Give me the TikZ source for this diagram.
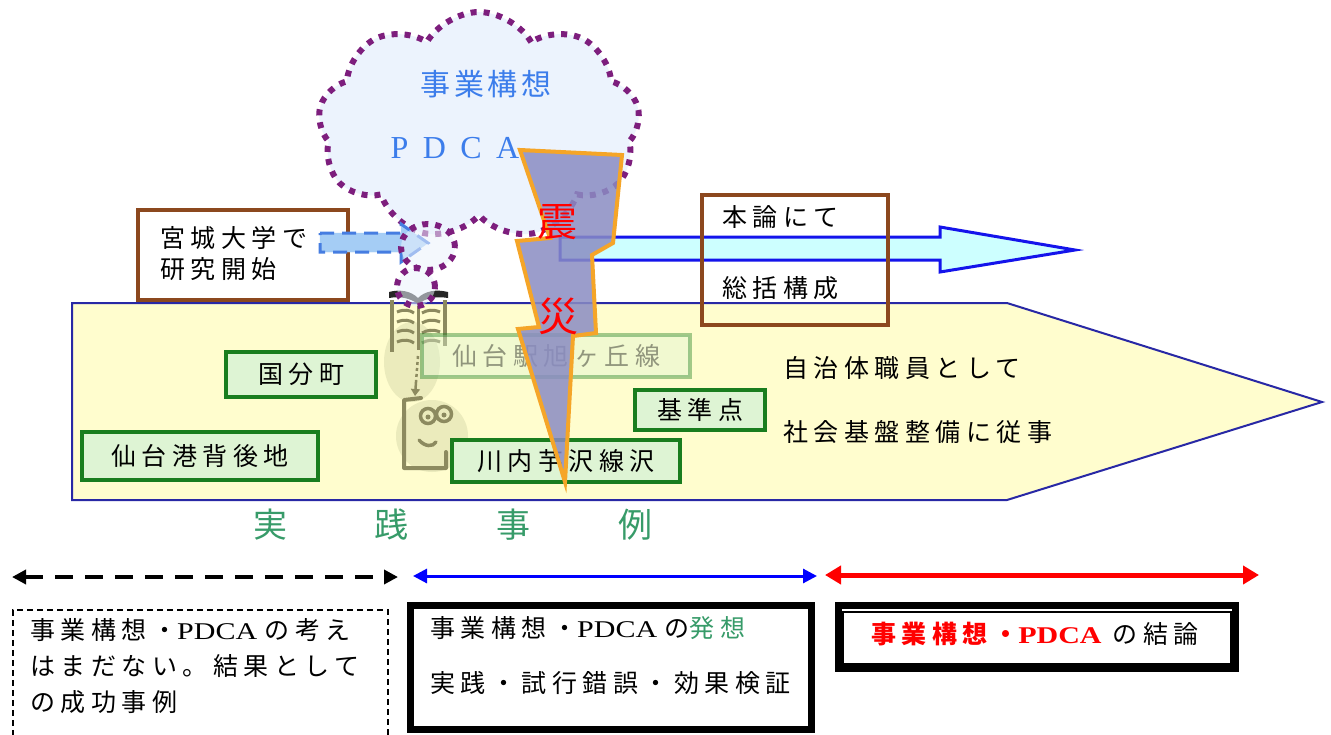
\documentclass[tikz,border=0pt]{standalone}
\usepackage{fontspec}
\setmainfont{Liberation Serif}
% Japanese text with the wide character pitch of the labels
\newfontfamily\jp{Noto Sans CJK JP}[LetterSpace=22]
\newfontfamily\jpn{Noto Sans CJK JP}
\newfontfamily\jpwide{Noto Sans CJK JP}[LetterSpace=13]
% broad serif Latin letters set beside the Japanese text
\newfontfamily\lat{Liberation Serif}[FakeStretch=1.25]
\newfontfamily\latwide{Liberation Serif}[LetterSpace=45]
\usetikzlibrary{shapes.symbols,shapes.geometric,arrows.meta}

\definecolor{penfill}{RGB}{255,253,206}
\definecolor{penline}{RGB}{40,40,165}
\definecolor{brownbox}{RGB}{140,72,30}
\definecolor{greenline}{RGB}{25,125,30}
\definecolor{greenfill}{RGB}{222,244,212}
\definecolor{cloudfill}{RGB}{236,243,253}
\definecolor{cloudline}{RGB}{125,30,125}
\definecolor{cloudtext}{RGB}{60,125,235}
\definecolor{boltfill}{RGB}{138,140,195}
\definecolor{boltline}{RGB}{245,165,40}
\definecolor{arrowfill}{RGB}{205,255,255}
\definecolor{arrowline}{RGB}{20,20,235}
\definecolor{dashfill}{RGB}{165,205,245}
\definecolor{dashline}{RGB}{70,125,225}
\definecolor{labelgreen}{RGB}{55,155,105}
\definecolor{icon}{RGB}{140,138,95}
\definecolor{glow}{RGB}{232,232,185}

\newcommand\jpsize{\fontsize{25}{30}\selectfont}
\newcommand\latsize{\fontsize{24}{30}\selectfont}

\begin{document}
\begin{tikzpicture}[x=1pt,y=-1pt,
  txt/.style={font={\jp\jpsize}, inner sep=0pt, anchor=west},
  greenbox/.style={draw=greenline, line width=4pt, fill=greenfill, inner sep=0pt, font={\jp\jpsize}},
  brownframe/.style={draw=brownbox, line width=4pt, inner sep=0pt},
  puffline/.style={draw=cloudline, line width=6pt, dash pattern=on 6pt off 7pt},
  tipsmall/.style={{Triangle[length=14pt,width=14pt]}-{Triangle[length=14pt,width=14pt]}},
  tipbig/.style={{Triangle[length=16pt,width=18pt]}-{Triangle[length=16pt,width=18pt]}}]
\useasboundingbox (0,0) rectangle (1331,734);
\fill[white] (0,0) rectangle (1331,734);

% timeline band
\draw[penline, line width=2pt, fill=penfill] (72,303) -- (1007,303) -- (1322,402) -- (1007,500) -- (72,500) -- cycle;

% book and reader icon
\fill[glow, opacity=0.85] (412,362) ellipse [x radius=28pt, y radius=40pt];
\fill[glow, opacity=0.85] (432,436) circle [radius=36pt];
\fill[black!85] (389,292) .. controls (400,289) and (411,291) .. (418,298) .. controls (425,291) and (436,289) .. (448,292)
  -- (448,298) .. controls (436,296) and (426,298) .. (418,304) .. controls (410,298) and (400,296) .. (389,298) -- cycle;
\draw[icon, line width=4pt] (392,300) -- (392,352);
\draw[icon, line width=4pt] (445,300) -- (445,346);
\draw[icon, line width=3pt] (418,304) -- (418,350);
\foreach \yy in {312,322,332,342} {
  \draw[icon, line width=3pt] (397,\yy) .. controls (404,\yy-3) and (410,\yy-2) .. (414,\yy+1);
  \draw[icon, line width=3pt] (422,\yy+1) .. controls (427,\yy-2) and (433,\yy-3) .. (440,\yy);
}
\draw[icon, line width=2.5pt, dash pattern=on 3pt off 3pt] (418,356) -- (416,382);
\draw[icon, line width=2.5pt, -{Triangle[length=7pt,width=9pt]}] (416,382) -- (415,396);
\draw[icon, line width=4pt, line join=round, line cap=round] (421,398) -- (404,400) -- (404,468) -- (446,468) -- (446,452);
\draw[icon, line width=3.5pt] (428,416) circle [radius=7.5pt] (444,414) circle [radius=7.5pt];
\fill[icon] (428,417) circle [radius=2.5pt] (444,415) circle [radius=2.5pt];
\draw[icon, line width=3.5pt, line cap=round] (419,440) .. controls (425,447) and (433,447) .. (436,442);

% practice examples
\node[greenbox, minimum width=150pt, minimum height=45pt] (kokubun) at (301,374.5) {国分町};
\node[greenbox, minimum width=236pt, minimum height=48pt] (minato) at (200,456) {仙台港背後地};
\node[greenbox, opacity=0.4, minimum width=268pt, minimum height=42pt] (ekimae) at (556,356) {仙台駅旭ヶ丘線};
\node[greenbox, minimum width=130pt, minimum height=40pt] (kijun) at (700,410) {基準点};
\node[greenbox, minimum width=228pt, minimum height=42pt] (kawauchi) at (566,461) {川内芋沢線沢};

\node[txt] (jichitai) at (783,368) {自治体職員として};
\node[txt] (kiban) at (783,432) {社会基盤整備に従事};

\node[font={\jpn\fontsize{34}{40}\selectfont}, text=labelgreen, inner sep=0pt] (jissen) at (453,525)
  {実\hspace{88pt}践\hspace{88pt}事\hspace{88pt}例};

% idea cloud
\node[cloud, cloud puffs=9, cloud puff arc=120, cloud ignores aspect, minimum width=322pt, minimum height=228pt,
  inner sep=0pt, fill=cloudfill, puffline] (idea) at (479,126) {};
\node[font={\jpwide\fontsize{30}{36}\selectfont}, text=cloudtext, inner sep=0pt] (ideatitle) at (486,84) {事業構想};
\node[font={\latwide\fontsize{32}{36}\selectfont}, text=cloudtext, inner sep=0pt] (ideapdca) at (455,148) {PDCA};

% start of research
\node[brownframe, fill=white, minimum width=210pt, minimum height=90pt] (miyagi) at (243,255) {};
\node[txt, align=left, font={\jp\fontsize{25}{31}\selectfont}] (miyagitxt) at (160,253) {宮城大学で\\研究開始};

\draw[dashfill, fill=dashfill] (320,233) -- (401,233) -- (401,224) -- (428,243) -- (401,262) -- (401,252) -- (320,252) -- cycle;
\draw[dashline, line width=3pt, dash pattern=on 14pt off 8pt] (320,233) -- (401,233) -- (401,224) -- (428,243) -- (401,262) -- (401,252) -- (320,252) -- cycle;

\node[ellipse, fill=cloudfill, fill opacity=0.55, puffline, minimum width=54pt, minimum height=46pt, inner sep=0pt] (bubbleA) at (428,247) {};
\node[ellipse, fill=cloudfill, fill opacity=0.55, puffline, minimum width=38pt, minimum height=38pt, inner sep=0pt] (bubbleB) at (416,287) {};

% main arrow towards the conclusion
\draw[arrowline, line width=3pt, fill=arrowfill] (560,237) -- (940,237) -- (940,227) -- (1075,250) -- (940,272) -- (940,260) -- (560,260) -- cycle;

% earthquake bolt
\draw[boltline, line width=4pt, fill=boltfill, fill opacity=0.85] (520,150) -- (622,155) -- (613,243) -- (592,255) -- (596,333)
  -- (573,336) -- (565,482) -- (518,329) -- (539,327) -- (517,241) -- (550,238) -- cycle;
\node[font={\jpn\fontsize{40}{40}\selectfont}, text=red, inner sep=0pt] (shin) at (557,222) {震};
\node[font={\jpn\fontsize{40}{40}\selectfont}, text=red, inner sep=0pt] (sai) at (558,316) {災};

\node[brownframe, minimum width=186pt, minimum height=130pt] (honron) at (795,260) {};
\node[txt, align=left] (honrontxt) at (722,252.5) {本論にて\\[41pt]総括構成};

% period arrows
\coordinate (p0) at (12,577);
\coordinate (p1) at (398,577);
\coordinate (q0) at (413,576);
\coordinate (q1) at (817,576);
\coordinate (r0) at (825,575);
\coordinate (r1) at (1259,575);
\draw[line width=3.5pt, dash pattern=on 18pt off 12pt, tipsmall] (p0) -- (p1);
\draw[blue, line width=3pt, tipsmall] (q0) -- (q1);
\draw[red, line width=5pt, tipbig] (r0) -- (r1);

% period descriptions
\node[draw, line width=1.5pt, dash pattern=on 6pt off 4pt, minimum width=375pt, minimum height=160pt, anchor=north west] (before) at (12,609) {};
\node[txt, align=left, font={\jp\fontsize{25}{36}\selectfont}] (beforetxt) at (30,666)
  {事業構想・{\lat\latsize PDCA }の考え\\はまだない。結果として\\の成功事例};

\node[draw, line width=7pt, minimum width=401pt, minimum height=124pt, inner sep=0pt] (during) at (611,667.5) {};
\node[txt, align=left] (duringtxt) at (430,655.5)
  {事業構想・{\lat\latsize PDCA }の\textcolor{labelgreen}{発想}\\[25pt]実践・試行錯誤・効果検証};

\node[draw, line width=7pt, minimum width=397pt, minimum height=63pt, inner sep=0pt] (after) at (1037,637) {};
\node[draw, line width=2pt, minimum width=388pt, minimum height=52pt, inner sep=0pt] (afterinner) at (1037,638) {};
\node[font={\jp\jpsize}, inner sep=0pt] (aftertxt) at (1035,634)
  {\textcolor{red}{\bfseries 事業構想・{\lat\latsize PDCA}} の結論};
\end{tikzpicture}
\end{document}
